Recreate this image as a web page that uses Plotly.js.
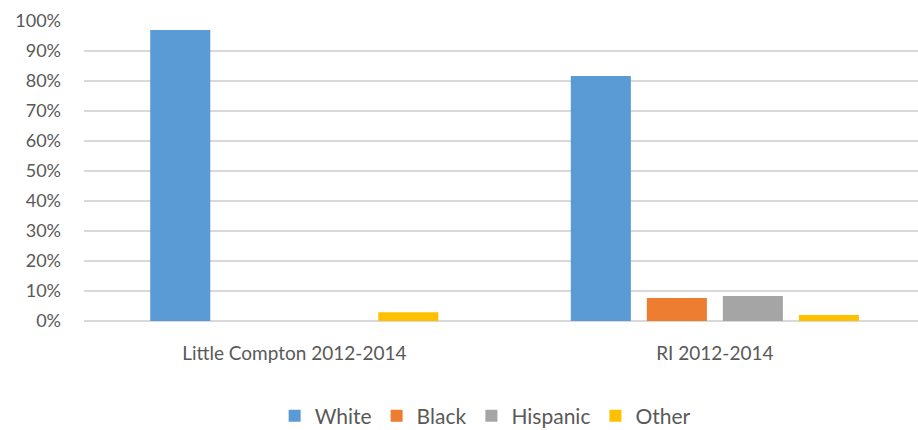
<!DOCTYPE html>
<html>
<head>
<meta charset="utf-8">
<script src="https://cdn.plot.ly/plotly-3.0.1.min.js"></script>
<style>html,body{margin:0;padding:0;background:#fff;}#chart{width:918px;height:430px;}</style>
</head>
<body>
<div id="chart"></div>
<script>
const categories = ["Little Compton 2012-2014", "RI 2012-2014"];
const seriesNames = ["White", "Black", "Hispanic", "Other"];
const white = [97, 81.7];
const black = [0, 7.7];
const hispanic = [0, 8.3];
const other = [2.9, 2.0];
const colors = ["#5B9BD5", "#ED7D31", "#A5A5A5", "#FFC000"];
const yTicks = [0, 10, 20, 30, 40, 50, 60, 70, 80, 90, 100];

const values = [white, black, hispanic, other];
const traces = seriesNames.map((name, i) => ({
  type: 'bar',
  name: name,
  x: categories,
  y: values[i],
  marker: {color: colors[i]},
  hoverinfo: 'skip'
}));

const font = "Lato, 'Liberation Sans', sans-serif";
const layout = {
  width: 918, height: 430,
  margin: {l: 84, r: 0, t: 21, b: 109, autoexpand: false},
  paper_bgcolor: '#fff', plot_bgcolor: '#fff',
  barmode: 'group',
  bargap: 0.277,
  bargroupgap: 0.21,
  font: {family: font, color: '#595959'},
  xaxis: {
    type: 'category',
    range: [-0.5, 1.483],
    automargin: false,
    showgrid: false,
    showline: false,
    zeroline: false,
    ticks: '',
    ticklabelstandoff: 19,
    tickfont: {size: 19, color: '#595959', family: font}
  },
  yaxis: {
    range: [0, 100],
    automargin: false,
    tickvals: yTicks,
    ticktext: yTicks.map(v => v + '%'),
    showgrid: true,
    gridcolor: '#D9D9D9',
    gridwidth: 1.3,
    zeroline: true,
    zerolinecolor: '#D9D9D9',
    zerolinewidth: 1.5,
    showline: false,
    ticks: '',
    ticklabelstandoff: 22,
    tickfont: {size: 18, color: '#595959', family: font}
  },
  showlegend: true,
  legend: {
    orientation: 'h',
    x: 0.481, xanchor: 'center',
    y: -0.317, yanchor: 'middle',
    font: {size: 21, color: '#595959', family: font},
    itemwidth: 30
  }
};

Plotly.newPlot('chart', traces, layout, {displayModeBar: false, staticPlot: true});
</script>
</body>
</html>
